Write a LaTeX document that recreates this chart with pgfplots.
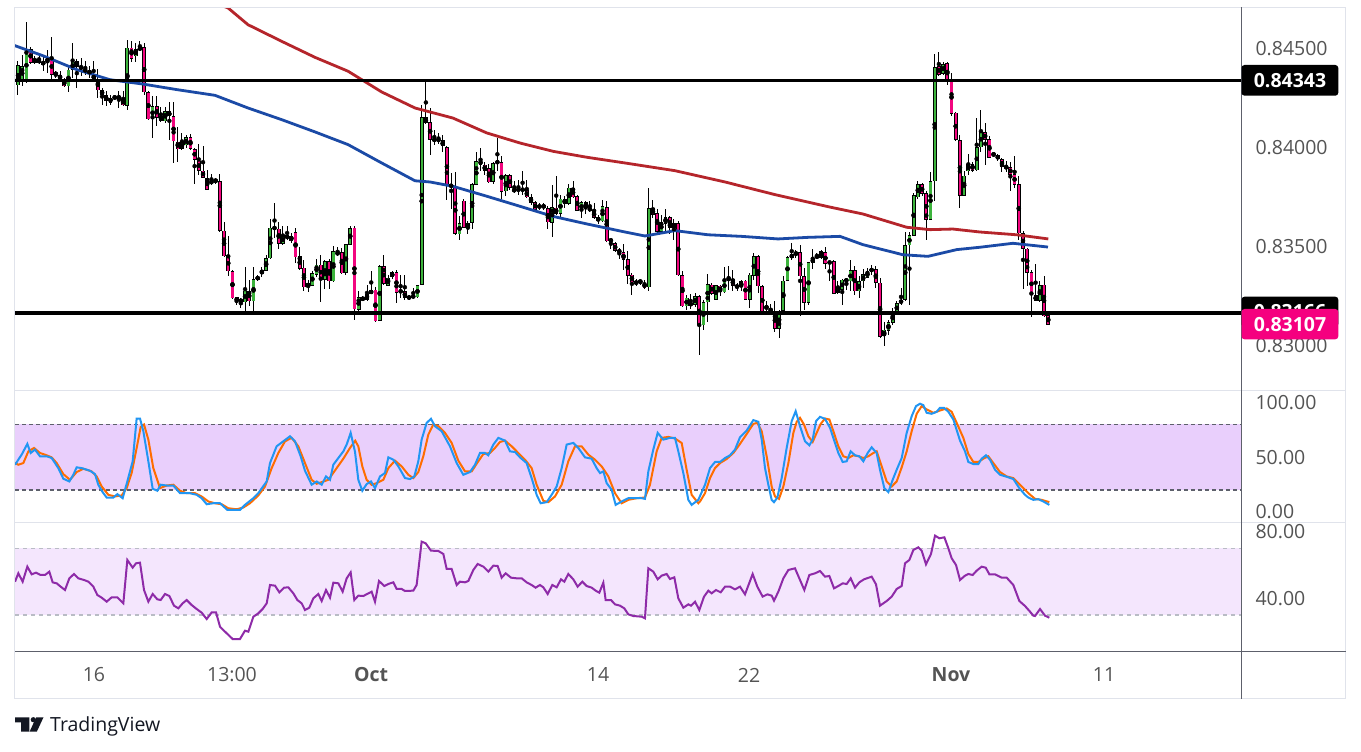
\documentclass[border=0pt]{standalone}
\usepackage{fontspec}
\setmainfont{Open Sans}
\usepackage{pgfplots}
\usepackage{pgfplotstable}
\pgfplotsset{compat=1.18}
\definecolor{upc}{HTML}{3CB33C}
\definecolor{dnc}{HTML}{F2067F}
\definecolor{pinkbox}{HTML}{F5007F}
\definecolor{mablue}{HTML}{1B4AA6}
\definecolor{mared}{HTML}{B5252B}
\definecolor{stk}{HTML}{2196F3}
\definecolor{std}{HTML}{FF6D00}
\definecolor{rsic}{HTML}{8E2BA8}
\definecolor{stband}{HTML}{E9CFFC}
\definecolor{rsiband}{HTML}{F4E6FD}
\definecolor{frame}{HTML}{E0E3EB}
\definecolor{darkline}{HTML}{5D606B}
\definecolor{lab}{HTML}{545454}
\definecolor{tvtext}{HTML}{131722}
\newcommand{\tvfont}{\fontsize{19.5pt}{23pt}\selectfont}

\pgfplotstableread{
o h l c
0.84317 0.84438 0.84267 0.84419
0.84340 0.84472 0.84317 0.84414
0.84340 0.84638 0.84327 0.84498
0.84498 0.84509 0.84425 0.84430
0.84433 0.84467 0.84425 0.84450
0.84450 0.84472 0.84425 0.84430
0.84422 0.84472 0.84388 0.84435
0.84430 0.84498 0.84380 0.84458
0.84455 0.84560 0.84351 0.84371
0.84376 0.84388 0.84354 0.84376
0.84368 0.84388 0.84334 0.84346
0.84346 0.84354 0.84308 0.84312
0.84312 0.84419 0.84284 0.84397
0.84397 0.84531 0.84354 0.84438
0.84438 0.84452 0.84307 0.84410
0.84414 0.84455 0.84363 0.84397
0.84393 0.84438 0.84371 0.84393
0.84393 0.84414 0.84354 0.84374
0.84371 0.84438 0.84340 0.84346
0.84346 0.84397 0.84253 0.84292
0.84292 0.84304 0.84219 0.84267
0.84267 0.84287 0.84211 0.84236
0.84231 0.84267 0.84219 0.84256
0.84256 0.84267 0.84243 0.84256
0.84256 0.84287 0.84202 0.84256
0.84248 0.84287 0.84211 0.84216
0.84216 0.84545 0.84191 0.84509
0.84506 0.84540 0.84438 0.84452
0.84464 0.84531 0.84438 0.84501
0.84496 0.84540 0.84489 0.84509
0.84509 0.84531 0.84267 0.84282
0.84282 0.84290 0.84144 0.84147
0.84147 0.84262 0.84051 0.84211
0.84211 0.84262 0.84110 0.84152
0.84160 0.84206 0.84132 0.84138
0.84135 0.84206 0.84127 0.84186
0.84186 0.84233 0.84042 0.84160
0.84160 0.84233 0.83925 0.84034
0.84034 0.84106 0.83930 0.83995
0.83995 0.84076 0.83992 0.84029
0.84014 0.84068 0.84000 0.84054
0.84054 0.84071 0.83992 0.83995
0.83995 0.84000 0.83818 0.83941
0.83938 0.84020 0.83865 0.83887
0.83887 0.84009 0.83849 0.83852
0.83849 0.83887 0.83786 0.83790
0.83820 0.83870 0.83812 0.83835
0.83835 0.83849 0.83818 0.83835
0.83835 0.83870 0.83579 0.83584
0.83584 0.83626 0.83449 0.83453
0.83458 0.83554 0.83351 0.83377
0.83377 0.83385 0.83239 0.83242
0.83245 0.83250 0.83205 0.83225
0.83228 0.83242 0.83191 0.83228
0.83220 0.83397 0.83174 0.83279
0.83279 0.83335 0.83200 0.83225
0.83225 0.83397 0.83174 0.83335
0.83335 0.83360 0.83326 0.83351
0.83363 0.83397 0.83346 0.83385
0.83380 0.83458 0.83377 0.83444
0.83444 0.83643 0.83441 0.83599
0.83596 0.83722 0.83545 0.83596
0.83592 0.83629 0.83491 0.83515
0.83515 0.83604 0.83512 0.83557
0.83542 0.83604 0.83537 0.83557
0.83557 0.83570 0.83520 0.83528
0.83576 0.83596 0.83419 0.83447
0.83453 0.83498 0.83385 0.83390
0.83394 0.83436 0.83276 0.83296
0.83296 0.83335 0.83272 0.83318
0.83304 0.83377 0.83301 0.83368
0.83360 0.83441 0.83351 0.83410
0.83410 0.83458 0.83222 0.83335
0.83335 0.83436 0.83289 0.83427
0.83427 0.83441 0.83289 0.83326
0.83326 0.83503 0.83323 0.83478
0.83461 0.83498 0.83453 0.83474
0.83474 0.83495 0.83363 0.83368
0.83368 0.83515 0.83360 0.83512
0.83512 0.83604 0.83508 0.83596
0.83596 0.83604 0.83132 0.83183
0.83183 0.83279 0.83179 0.83245
0.83239 0.83250 0.83225 0.83239
0.83233 0.83309 0.83228 0.83262
0.83264 0.83380 0.83262 0.83281
0.83284 0.83296 0.83121 0.83124
0.83127 0.83410 0.83124 0.83402
0.83402 0.83458 0.83306 0.83313
0.83304 0.83360 0.83301 0.83346
0.83346 0.83380 0.83340 0.83372
0.83372 0.83385 0.83217 0.83267
0.83276 0.83360 0.83242 0.83276
0.83276 0.83360 0.83233 0.83242
0.83239 0.83259 0.83230 0.83250
0.83249 0.83292 0.83242 0.83249
0.83245 0.83309 0.83242 0.83306
0.83309 0.84219 0.83306 0.84155
0.84155 0.84341 0.84122 0.84127
0.84130 0.84202 0.83967 0.84042
0.84042 0.84093 0.84017 0.84042
0.84046 0.84079 0.84020 0.84034
0.84039 0.84064 0.83980 0.84009
0.84005 0.84012 0.83739 0.83806
0.83810 0.83874 0.83694 0.83810
0.83806 0.83879 0.83559 0.83565
0.83565 0.83655 0.83537 0.83621
0.83734 0.83740 0.83594 0.83599
0.83599 0.83629 0.83565 0.83624
0.83624 0.83823 0.83592 0.83818
0.83815 0.83980 0.83815 0.83933
0.83938 0.84000 0.83882 0.83916
0.83916 0.83930 0.83865 0.83886
0.83899 0.83919 0.83823 0.83828
0.83828 0.83930 0.83818 0.83925
0.83928 0.84051 0.83886 0.83928
0.83928 0.83958 0.83744 0.83781
0.83781 0.83869 0.83756 0.83862
0.83862 0.83869 0.83790 0.83798
0.83786 0.83832 0.83773 0.83786
0.83790 0.83840 0.83764 0.83790
0.83790 0.83887 0.83764 0.83790
0.83790 0.83840 0.83747 0.83751
0.83751 0.83768 0.83714 0.83722
0.83726 0.83734 0.83680 0.83688
0.83694 0.83722 0.83687 0.83714
0.83714 0.83722 0.83688 0.83697
0.83697 0.83710 0.83592 0.83624
0.83624 0.83815 0.83550 0.83700
0.83700 0.83857 0.83663 0.83667
0.83667 0.83761 0.83650 0.83744
0.83744 0.83756 0.83697 0.83719
0.83719 0.83818 0.83714 0.83801
0.83801 0.83837 0.83747 0.83752
0.83756 0.83764 0.83680 0.83683
0.83683 0.83731 0.83646 0.83726
0.83726 0.83734 0.83667 0.83694
0.83697 0.83734 0.83677 0.83683
0.83685 0.83722 0.83643 0.83646
0.83650 0.83663 0.83613 0.83629
0.83629 0.83739 0.83626 0.83705
0.83700 0.83734 0.83525 0.83528
0.83533 0.83542 0.83491 0.83533
0.83520 0.83523 0.83474 0.83481
0.83483 0.83495 0.83441 0.83473
0.83473 0.83515 0.83385 0.83436
0.83439 0.83478 0.83313 0.83355
0.83360 0.83368 0.83259 0.83323
0.83321 0.83335 0.83301 0.83321
0.83331 0.83340 0.83306 0.83321
0.83318 0.83335 0.83289 0.83292
0.83296 0.83801 0.83276 0.83697
0.83697 0.83736 0.83646 0.83663
0.83672 0.83692 0.83570 0.83576
0.83576 0.83663 0.83565 0.83626
0.83616 0.83692 0.83582 0.83650
0.83650 0.83655 0.83565 0.83596
0.83596 0.83643 0.83537 0.83621
0.83621 0.83629 0.83351 0.83356
0.83356 0.83380 0.83196 0.83200
0.83200 0.83259 0.83183 0.83245
0.83205 0.83264 0.83188 0.83217
0.83208 0.83267 0.83195 0.83250
0.83250 0.83255 0.82956 0.83104
0.83104 0.83233 0.83082 0.83222
0.83220 0.83363 0.83121 0.83313
0.83309 0.83318 0.83259 0.83264
0.83233 0.83309 0.83230 0.83306
0.83306 0.83309 0.83250 0.83271
0.83271 0.83397 0.83267 0.83338
0.83338 0.83402 0.83284 0.83338
0.83338 0.83385 0.83279 0.83306
0.83309 0.83318 0.83279 0.83292
0.83298 0.83331 0.83279 0.83326
0.83330 0.83335 0.83230 0.83233
0.83233 0.83368 0.83191 0.83360
0.83356 0.83469 0.83335 0.83453
0.83453 0.83461 0.83267 0.83301
0.83301 0.83306 0.83154 0.83161
0.83203 0.83225 0.83161 0.83188
0.83188 0.83212 0.83154 0.83171
0.83171 0.83225 0.83073 0.83087
0.83087 0.83183 0.83040 0.83178
0.83178 0.83356 0.83166 0.83330
0.83330 0.83453 0.83326 0.83447
0.83444 0.83520 0.83436 0.83464
0.83461 0.83486 0.83444 0.83474
0.83474 0.83508 0.83149 0.83351
0.83351 0.83394 0.83183 0.83217
0.83217 0.83427 0.83208 0.83422
0.83419 0.83491 0.83390 0.83444
0.83458 0.83469 0.83441 0.83444
0.83444 0.83486 0.83441 0.83478
0.83473 0.83500 0.83390 0.83415
0.83422 0.83427 0.83326 0.83422
0.83427 0.83432 0.83262 0.83264
0.83267 0.83330 0.83262 0.83292
0.83284 0.83340 0.83205 0.83335
0.83338 0.83343 0.83284 0.83326
0.83326 0.83432 0.83276 0.83382
0.83382 0.83402 0.83259 0.83276
0.83276 0.83351 0.83242 0.83326
0.83326 0.83390 0.83292 0.83363
0.83346 0.83394 0.83343 0.83377
0.83377 0.83407 0.83360 0.83390
0.83390 0.83407 0.83292 0.83321
0.83321 0.83340 0.83040 0.83048
0.83048 0.83121 0.82998 0.83082
0.83077 0.83132 0.83057 0.83121
0.83116 0.83191 0.83107 0.83166
0.83166 0.83225 0.83161 0.83217
0.83217 0.83292 0.83205 0.83230
0.83233 0.83576 0.83228 0.83508
0.83508 0.83576 0.83205 0.83559
0.83557 0.83773 0.83554 0.83761
0.83751 0.83832 0.83744 0.83818
0.83818 0.83823 0.83761 0.83769
0.83773 0.83781 0.83537 0.83638
0.83638 0.83882 0.83635 0.83832
0.83832 0.84475 0.83734 0.84408
0.84414 0.84486 0.84363 0.84371
0.84376 0.84435 0.84371 0.84425
0.84430 0.84438 0.84320 0.84341
0.84341 0.84380 0.84165 0.84172
0.84177 0.84182 0.84037 0.84042
0.84042 0.84068 0.83697 0.83761
0.83761 0.83882 0.83756 0.83862
0.83882 0.83970 0.83865 0.83919
0.83919 0.83928 0.83879 0.83886
0.83886 0.84152 0.83882 0.84004
0.84004 0.84191 0.83980 0.84084
0.84081 0.84127 0.83916 0.84042
0.84046 0.84059 0.83950 0.83953
0.83975 0.83980 0.83953 0.83961
0.83963 0.83970 0.83936 0.83945
0.83945 0.83950 0.83879 0.83903
0.83903 0.83933 0.83879 0.83903
0.83903 0.83930 0.83784 0.83865
0.83869 0.83963 0.83798 0.83815
0.83818 0.83857 0.83537 0.83570
0.83570 0.83579 0.83289 0.83490
0.83490 0.83495 0.83301 0.83368
0.83372 0.83382 0.83149 0.83255
0.83255 0.83414 0.83225 0.83228
0.83228 0.83330 0.83222 0.83309
0.83309 0.83351 0.83144 0.83149
0.83154 0.83161 0.83107 0.83107
}\candles

\pgfplotsset{
  tvaxis/.style={
    scale only axis, width=1226pt,
    xmin=0.2866, xmax=291.84,
    axis line style={draw=none},
    tick style={draw=none}, major tick length=0pt,
    yticklabel pos=right, scaled y ticks=false,
    yticklabel style={anchor=west, xshift=11pt, font=\tvfont, text=lab},
    xtick=\empty, anchor=south west,
  },
  wick/.style={only marks, mark=none, forget plot,
    error bars/.cd, y dir=both, y explicit, error mark=none,
    error bar style={line width=1pt, black}},
}

\begin{document}
\begin{tikzpicture}[x=1pt,y=1pt]
\useasboundingbox (0,0) rectangle (1361,752);
\fill[white] (0,0) rectangle (1361,752);

% ---------------- price pane ----------------
\begin{axis}[tvaxis, at={(15pt,361.3pt)}, height=383.4pt,
  ymin=0.827728, ymax=0.847111,
  ytick={0.830,0.835,0.840,0.845},
  yticklabels={0.83000,0.83500,0.84000,0.84500}]
% wicks
\addplot[wick] table[x expr=\coordindex+1,
  y expr={(\thisrow{h}+\thisrow{l})/2},
  y error expr={(\thisrow{h}-\thisrow{l})/2}] {\candles};
% body outlines
\addplot[only marks, mark=none, forget plot,
  error bars/.cd, y dir=both, y explicit, error mark=none,
  error bar style={line width=3.8pt, black}]
  table[x expr=\coordindex+1,
  y expr={(\thisrow{o}+\thisrow{c})/2},
  y error expr={max(abs(\thisrow{c}-\thisrow{o})/2,0.00003)}] {\candles};
% up bodies
\addplot[only marks, mark=none, forget plot,
  restrict expr to domain={\thisrow{c}-\thisrow{o}}{0:1},
  error bars/.cd, y dir=both, y explicit, error mark=none,
  error bar style={line width=2.3pt, upc}]
  table[x expr=\coordindex+1,
  y expr={(\thisrow{o}+\thisrow{c})/2},
  y error expr={max(abs(\thisrow{c}-\thisrow{o})/2-0.000032,0)}] {\candles};
% down bodies
\addplot[only marks, mark=none, forget plot,
  restrict expr to domain={\thisrow{c}-\thisrow{o}}{-1:-0.000001},
  error bars/.cd, y dir=both, y explicit, error mark=none,
  error bar style={line width=2.3pt, dnc}]
  table[x expr=\coordindex+1,
  y expr={(\thisrow{o}+\thisrow{c})/2},
  y error expr={max(abs(\thisrow{c}-\thisrow{o})/2-0.000032,0)}] {\candles};
% moving averages
\addplot[mablue, line width=2.8pt, mark=none] coordinates {
(-0.9,0.84526)(6.95,0.84466)(14.96,0.84396)(22.88,0.84345)(30.73,0.84323)(38.74,0.84295)(47.85,0.84266)(55.7,0.84202)(63.71,0.84143)(71.63,0.84081)(79.48,0.84017)(87.49,0.83924)(95.41,0.83834)(98.98,0.83828)(104.45,0.83806)(112.46,0.83756)(120.38,0.83705)(128.23,0.83654)(136.24,0.83616)(145.35,0.83575)(150.1,0.83555)(157.24,0.83582)(165.09,0.83561)(173.1,0.83553)(181.74,0.83540)(188.87,0.83548)(196.48,0.83553)(201.95,0.83511)(211.46,0.83460)(217.41,0.83452)(224.23,0.83486)(229.77,0.83498)(237.62,0.83518)(245.94,0.83499)};
\addplot[mared, line width=2.8pt, mark=none] coordinates {
(47.85,0.84733)(50.94,0.84708)(55.7,0.84623)(63.71,0.84539)(71.63,0.84458)(79.48,0.84388)(87.49,0.84283)(95.41,0.84202)(104.45,0.84151)(112.46,0.84076)(120.38,0.84025)(128.23,0.83983)(136.24,0.83953)(145.35,0.83924)(157.24,0.83885)(169.13,0.83828)(181.02,0.83764)(194.1,0.83701)(201.95,0.83666)(212.34,0.83599)(217.88,0.83587)(223.35,0.83590)(229.77,0.83575)(238.5,0.83561)(246.02,0.83540)};
% horizontal levels
\addplot[black, line width=3.2pt, mark=none] coordinates {(0.2866,0.84343)(291.84,0.84343)};
\addplot[black, line width=3.2pt, mark=none] coordinates {(0.2866,0.83166)(291.84,0.83166)};
\end{axis}

% ---------------- stochastic pane ----------------
\begin{axis}[tvaxis, at={(15pt,229.7pt)}, height=131.6pt,
  ymin=-9.5, ymax=110.7,
  ytick={0,50,100}, yticklabels={0.00,50.00,100.00}]
\fill[stband] (axis cs:0.2866,20) rectangle (axis cs:291.84,80);
\draw[darkline, line width=1.1pt, dash pattern=on 4pt off 3pt] (axis cs:0.2866,80) -- (axis cs:291.84,80);
\draw[darkline, line width=1.1pt, dash pattern=on 4pt off 3pt] (axis cs:0.2866,20) -- (axis cs:291.84,20);
\addplot[std, line width=2pt, mark=none] coordinates {
(0.29,44.6)(1.08,43.1)(2.27,44.6)(3.46,55.3)(4.81,58.4)(6.23,53.8)(7.82,51.7)(9.01,49.8)(10.2,44.6)(11.78,34.5)(13.37,29.3)(14.95,36.4)(16.54,39.4)(18.52,37.0)(19.71,32.4)(20.9,23.2)(22.48,15.6)(24.07,14.1)(25.65,15.0)(26.84,21.7)(28.03,35.5)(29.22,58.4)(30.17,77.4)(30.97,79.8)(32.0,66.0)(33.18,40.0)(34.77,21.7)(36.36,24.1)(37.94,24.8)(39.53,19.3)(41.11,17.1)(43.09,17.1)(44.68,14.1)(46.26,9.5)(47.85,7.9)(49.43,7.0)(51.02,3.3)(53.0,2.4)(54.59,4.0)(56.17,7.9)(58.15,15.0)(59.74,23.2)(61.33,40.0)(62.91,53.8)(64.5,64.5)(66.08,67.6)(67.67,59.9)(69.25,44.6)(70.84,29.3)(72.03,25.7)(73.22,27.2)(74.8,29.3)(76.78,40.0)(78.37,48.6)(79.95,58.4)(81.2,65.0)(81.93,59.9)(82.88,41.6)(83.91,29.3)(85.1,24.8)(86.29,26.3)(87.88,29.3)(89.07,40.0)(90.65,46.8)(92.24,41.6)(93.82,33.9)(95.01,30.9)(96.2,36.4)(97.39,50.8)(98.58,70.6)(99.77,79.8)(100.96,78.3)(102.54,72.2)(104.13,63.0)(105.71,46.8)(107.3,37.0)(108.88,37.0)(110.47,46.2)(111.66,52.9)(113.24,53.8)(114.43,58.4)(115.62,63.9)(116.81,65.1)(118.4,59.9)(119.98,53.8)(121.57,47.7)(123.15,40.0)(124.34,24.8)(125.93,10.1)(127.12,8.9)(128.7,14.1)(130.29,24.8)(131.87,46.2)(133.46,59.9)(135.04,59.9)(136.63,52.3)(138.21,47.7)(139.8,41.6)(141.39,32.4)(142.97,17.1)(144.56,7.9)(146.14,11.0)(148.12,12.5)(150.1,13.1)(151.29,24.8)(152.88,55.3)(154.07,67.6)(155.65,68.5)(157.24,67.0)(158.83,63.0)(160.01,38.5)(161.2,15.6)(162.79,7.9)(163.19,9.5)(164.38,17.1)(165.57,30.9)(166.76,40.0)(167.95,44.6)(169.53,48.3)(171.12,53.8)(172.7,62.1)(174.29,71.2)(175.87,80.4)(176.82,81.3)(177.86,73.7)(179.04,50.8)(180.23,23.2)(181.03,14.1)(181.98,11.9)(183.01,23.2)(184.2,44.6)(185.39,72.2)(186.18,82.3)(186.97,85.9)(187.92,79.8)(188.95,69.1)(189.98,63.9)(190.93,72.2)(191.89,80.4)(192.92,85.3)(193.95,84.4)(194.9,73.7)(196.09,59.9)(197.28,50.8)(198.47,49.2)(199.65,51.7)(200.84,50.8)(202.03,49.2)(203.22,50.8)(204.41,53.8)(205.2,55.3)(206.39,41.6)(207.58,27.8)(208.77,23.2)(209.96,27.8)(211.15,40.7)(212.34,55.3)(213.53,73.7)(214.72,89.6)(215.9,96.6)(217.09,93.6)(218.68,90.5)(220.26,92.6)(221.85,94.5)(223.04,91.4)(224.23,81.3)(225.81,67.6)(227.0,52.9)(228.19,45.6)(229.38,45.6)(230.56,48.6)(231.75,50.8)(232.94,44.6)(234.53,36.4)(236.12,32.4)(237.7,30.9)(239.29,24.8)(241.27,17.1)(242.86,11.9)(244.44,11.0)(246.26,8.9)};
\addplot[stk, line width=2pt, mark=none] coordinates {
(0.29,43.1)(1.87,52.3)(3.22,62.1)(4.01,53.8)(5.04,56.9)(6.23,50.8)(7.82,50.8)(9.01,49.2)(10.59,40.0)(11.78,30.3)(13.21,27.8)(14.16,33.9)(14.95,40.7)(16.14,40.0)(18.12,37.6)(19.31,34.5)(20.1,24.8)(21.13,18.0)(22.09,13.1)(23.67,13.1)(24.62,16.2)(25.89,12.5)(27.0,27.8)(28.27,46.2)(29.22,85.3)(30.01,85.3)(30.81,73.7)(32.0,46.2)(33.03,21.1)(34.14,19.3)(34.93,24.8)(36.36,24.1)(37.94,24.1)(39.53,17.1)(41.9,17.1)(43.49,15.6)(44.68,12.5)(45.87,7.0)(47.45,7.9)(49.04,7.9)(50.78,1.8)(53.79,1.8)(54.98,6.4)(55.78,8.9)(56.97,12.5)(58.15,17.1)(60.14,27.8)(60.93,44.6)(62.5,59.9)(64.1,64.5)(65.69,69.1)(66.87,64.5)(68.22,50.8)(69.25,37.6)(70.84,24.8)(72.03,27.8)(73.22,24.8)(74.25,32.4)(75.2,29.3)(75.99,43.1)(77.18,49.2)(78.37,55.3)(79.16,61.5)(80.11,72.2)(81.14,55.0)(81.93,29.3)(82.88,19.3)(83.91,25.4)(84.95,27.8)(85.9,21.7)(87.09,32.4)(88.27,35.5)(89.07,49.8)(90.26,47.7)(91.45,41.6)(93.03,30.9)(94.22,30.0)(95.25,32.4)(96.2,46.2)(96.99,66.0)(98.18,81.3)(99.21,85.0)(100.16,78.3)(101.75,73.7)(103.73,59.9)(105.32,44.6)(106.9,33.9)(108.49,36.4)(109.68,43.1)(110.87,53.8)(112.06,53.8)(112.85,51.7)(114.04,61.5)(115.23,67.6)(116.81,65.1)(118.0,55.3)(119.19,54.7)(120.38,49.8)(121.96,44.6)(123.15,30.9)(124.34,15.6)(125.29,7.9)(126.72,8.9)(127.91,15.6)(129.1,23.2)(130.29,40.0)(131.48,61.5)(133.06,63.0)(134.25,58.4)(135.84,49.8)(137.42,48.6)(138.61,40.0)(139.4,35.5)(140.2,37.0)(140.99,26.3)(142.18,20.2)(143.13,6.4)(144.56,9.5)(146.14,12.5)(147.73,12.5)(149.31,12.5)(150.1,11.9)(150.9,37.0)(152.08,56.9)(153.12,72.2)(154.46,66.0)(156.05,67.6)(157.24,67.6)(158.03,55.3)(159.22,35.5)(160.41,11.0)(161.2,6.4)(162.79,11.0)(164.38,24.8)(165.57,40.0)(166.76,45.6)(167.95,45.6)(169.14,49.2)(170.32,51.7)(171.51,56.9)(172.7,68.2)(174.29,74.3)(175.87,83.8)(177.06,82.3)(177.86,66.0)(178.65,40.0)(179.44,24.8)(180.23,11.0)(180.79,8.9)(181.58,13.1)(182.61,30.9)(183.8,58.4)(184.99,82.9)(185.94,92.0)(186.97,78.3)(188.16,64.5)(189.19,60.8)(189.98,66.0)(190.78,82.9)(191.73,86.8)(192.92,85.0)(194.11,76.7)(195.29,63.0)(196.09,53.8)(197.12,45.6)(198.07,46.2)(199.02,55.3)(200.05,51.7)(201.08,50.8)(202.03,46.2)(203.06,53.8)(204.01,59.0)(205.2,53.8)(205.99,38.5)(207.02,21.7)(207.98,18.0)(209.01,29.3)(209.96,38.5)(211.15,49.2)(212.34,72.2)(213.53,87.4)(214.56,96.6)(215.51,98.8)(216.3,97.5)(217.09,90.5)(218.28,89.6)(219.47,91.4)(220.26,95.1)(221.21,95.1)(222.25,91.4)(223.44,84.4)(225.02,65.1)(226.21,55.3)(227.0,45.6)(228.19,43.7)(229.38,43.7)(230.17,48.6)(231.2,51.7)(232.15,47.7)(233.34,38.5)(234.53,33.9)(236.12,32.1)(237.7,30.0)(239.13,21.7)(240.48,15.6)(241.27,13.1)(242.46,11.0)(243.65,11.6)(244.84,9.5)(246.26,6.4)};
\end{axis}

% ---------------- RSI pane ----------------
\begin{axis}[tvaxis, at={(15pt,100.3pt)}, height=129.4pt,
  ymin=8.0, ymax=85.6,
  ytick={40,80}, yticklabels={40.00,80.00},
  xtick={19.07,51.89,84.95,138.93,174.84,222.88,259.26},
  xticklabels={16,13:00,\textbf{Oct},14,22,\textbf{Nov},11},
  xticklabel style={anchor=center, yshift=-23.3pt, font=\tvfont, text=lab}]
\fill[rsiband] (axis cs:0.2866,30) rectangle (axis cs:291.84,70);
\draw[frame!70!darkline, line width=1.1pt, dash pattern=on 4pt off 4pt] (axis cs:0.2866,70) -- (axis cs:291.84,70);
\draw[frame!70!darkline, line width=1.1pt, dash pattern=on 4pt off 4pt] (axis cs:0.2866,30) -- (axis cs:291.84,30);
\addplot[rsic, line width=2pt, mark=none] coordinates {
(0.29,50)(1.08,55)(2.11,50)(3.22,59)(4.25,54.4)(5.28,55.4)(6.39,54)(7.42,54)(8.45,56)(9.24,49.6)(10.2,49)(11.15,47)(12.18,45)(13.21,52)(14.32,54.6)(15.35,52)(16.7,51)(17.73,50)(18.92,47)(19.87,42)(20.9,40.4)(22.09,38)(23.27,40.6)(24.62,40.6)(26.05,37)(27.0,63)(28.27,58.4)(29.06,61)(30.01,61.4)(30.97,45)(32.0,38)(33.03,42.6)(34.14,39.4)(34.93,39)(35.96,42.6)(36.99,41.4)(38.1,35.6)(39.13,34)(40.16,37)(41.11,39)(42.3,36)(43.49,33.6)(44.68,31.4)(45.87,27.6)(47.06,31.6)(48.09,31.6)(49.04,23)(50.23,20)(52.05,15.6)(53.79,15.6)(54.98,20.6)(55.78,20)(56.97,29)(58.15,31)(59.18,33.6)(60.14,37)(60.93,48)(62.12,47.6)(63.15,43.6)(64.26,46.4)(65.29,46.6)(66.48,43)(67.43,39)(68.46,37)(69.25,33)(70.28,34.4)(71.23,40)(72.42,42.6)(73.22,38.4)(74.25,45)(75.2,40.4)(75.99,49.4)(77.18,49)(78.21,44)(79.16,52)(80.11,55.6)(80.98,39)(81.93,41.6)(83.12,41.4)(85.1,44)(85.9,38)(86.85,50.4)(88.12,47.4)(89.07,48.6)(90.26,49.6)(91.05,45.6)(92.24,45.6)(93.03,44.4)(95.01,44.6)(95.8,48)(96.99,74)(97.95,73)(99.21,68.6)(100.96,68.4)(102.15,66.6)(102.94,57.6)(104.13,57.6)(105.32,48)(106.11,50)(107.3,49.6)(108.09,50.4)(109.28,57)(110.31,60.6)(111.66,59)(112.85,56)(114.04,59.6)(115.07,59.4)(116.02,52.4)(116.97,55)(118.24,52.4)(119.59,52)(120.78,52)(121.96,49.6)(123.15,48)(124.1,46.4)(125.13,48)(125.93,46.6)(126.96,42.6)(128.07,48)(129.1,46.6)(130.13,51.4)(130.92,50)(131.87,54.6)(133.06,51.4)(134.09,47)(135.2,50)(136.23,47.4)(137.42,46.4)(138.37,44.6)(139.24,43.4)(140.2,49.4)(140.75,39)(142.02,39)(142.97,36.4)(144.16,35.6)(145.19,34)(146.14,30.4)(147.33,29.4)(149.31,29)(150.1,28)(150.9,58)(152.08,56)(153.12,51.4)(154.07,53.6)(155.26,54.6)(156.05,51.6)(157.08,52.6)(158.03,40)(159.22,34.4)(160.41,36.4)(161.05,35.6)(162.0,38)(163.03,33)(164.14,41)(165.17,44.6)(165.96,43)(166.99,45)(168.1,43.6)(169.14,47)(170.32,47)(171.51,45.4)(172.7,47)(173.89,42.4)(175.71,54.6)(176.82,47)(178.09,41)(179.2,42.4)(180.23,41.6)(180.79,38.6)(181.82,44)(183.01,52)(184.2,57)(185.78,58)(186.97,51)(188.0,45)(189.19,54)(190.54,55)(191.73,56.4)(192.92,53)(193.95,53.4)(195.06,46)(196.09,47.4)(197.12,49)(198.07,48.6)(199.02,52)(200.05,46.4)(201.08,49.6)(202.19,51.4)(204.01,53)(205.04,48.4)(205.99,35.6)(207.58,38.4)(208.77,41)(209.96,45.6)(211.15,47.4)(211.94,61)(212.97,63)(213.92,69)(215.11,70.6)(215.9,68.6)(216.93,60.4)(218.12,66.6)(219.08,77.6)(220.11,76)(221.3,76.6)(222.25,70)(223.04,64)(224.07,60)(225.02,51)(226.21,53.6)(227.0,54.6)(228.03,54)(228.98,56.6)(230.17,59)(231.13,58.4)(232.0,54.4)(233.34,54.4)(234.93,52.4)(236.12,52.4)(237.7,48)(239.13,38.4)(240.48,35.4)(241.67,32)(242.46,29.6)(242.86,29.4)(244.05,33.6)(245.24,29.6)(246.26,28.4)};
\end{axis}

% ---------------- frame and separators ----------------
\draw[frame, line width=1pt] (14.5,744.7) rectangle (1345.7,53.3);
\draw[frame, line width=1pt] (15,361.3) -- (1345.7,361.3);
\draw[frame, line width=1pt] (15,229.7) -- (1345.7,229.7);
\draw[darkline, line width=1pt] (15,100.3) -- (1345.7,100.3);
\draw[darkline, line width=1pt] (1241,744.7) -- (1241,53.3);

% ---------------- price labels ----------------
\fill[black, rounded corners=3pt] (1241.5,687) rectangle (1338.3,656.3);
\node[text=white, font=\tvfont\bfseries] at (1290,671.7) {0.84343};
\fill[black, rounded corners=3pt] (1241.5,455.3) rectangle (1338.3,425);
\node[text=white, font=\tvfont\bfseries] at (1290,440) {0.83166};
\fill[pinkbox, rounded corners=3pt] (1241.5,443) rectangle (1338.3,412.7);
\node[text=white, font=\tvfont\bfseries] at (1290,427.8) {0.83107};

% ---------------- TradingView logo ----------------
\fill[tvtext] (15,34.7) -- (29.3,34.7) -- (29.3,20.3) -- (21,20.3) -- (21,29.7) -- (15,29.7) -- cycle;
\fill[tvtext] (33.3,32.3) circle (2.6);
\fill[tvtext] (36.2,34.7) -- (43.5,34.7) -- (36.8,20.3) -- (29.6,20.3) -- cycle;
\node[anchor=base west, inner sep=0pt, text=tvtext, font=\tvfont] at (50,20.3) {TradingView};
\end{tikzpicture}
\end{document}
